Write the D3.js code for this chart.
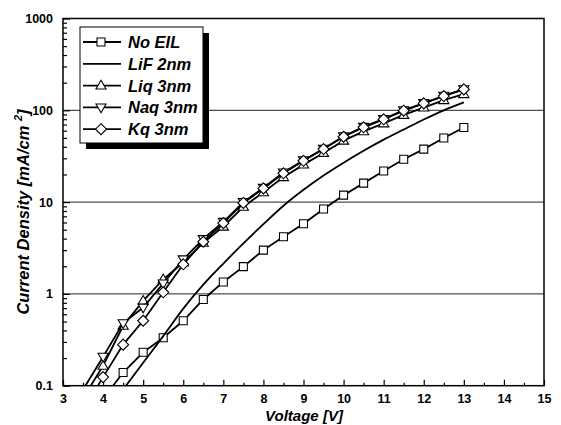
<!DOCTYPE html>
<html><head><meta charset="utf-8">
<script src="https://cdn.jsdelivr.net/npm/d3@7"></script>
<style>
html,body{margin:0;padding:0;background:#fff;}
svg{display:block;}
text{font-family:"Liberation Sans",Arial,Helvetica,sans-serif;}
</style>
</head><body>
<svg id="chart" width="561" height="425"></svg>
<script>
// ---- data ----
const seriesNames = ["No EIL", "LiF 2nm", "Liq 3nm", "Naq 3nm", "Kq 3nm"];
const noEilV = [4,4.5,5,5.5,6,6.5,7,7.5,8,8.5,9,9.5,10,10.5,11,11.5,12,12.5,13];
const noEilJ = [0.072,0.139,0.231,0.333,0.51,0.87,1.35,1.98,3.0,4.2,5.8,8.4,11.9,16.1,21.8,29.3,37.8,50,65];
const lifV = [4.5,5,5.5,6,6.5,7,7.5,8,8.5,9,9.5,10,10.5,11,11.5,12,12.5,13];
const lifJ = [0.091,0.178,0.347,0.692,1.26,2.14,3.55,5.75,9.12,13.6,19.5,26.9,36.3,47.9,61.7,79.4,100,122];
const qV = [3.5,4,4.5,5,5.5,6,6.5,7,7.5,8,8.5,9,9.5,10,10.5,11,11.5,12,12.5,13];
const liqJ = [0.073,0.165,0.45,0.84,1.44,2.2,3.6,5.4,8.9,12.8,18.7,25.6,34.3,46.7,59,72,89,107,129,150];
const naqJ = [0.0906,0.207,0.48,0.71,1.3,2.38,3.96,6.1,10.0,14.3,21,28.5,38.2,52,66,80.5,100,120,144,170];
const kqJ = [0.054,0.124,0.28,0.51,1.04,2.1,3.7,5.9,9.8,14.1,20.6,28.2,37.8,51.5,65.3,79.8,99,119,143,169];
const xTicks = [3,4,5,6,7,8,9,10,11,12,13,14,15];
const yTicks = [0.1,1,10,100,1000];
const yTickLabels = ["0.1","1","10","100","1000"];
const yGrid = [1,10,100];

// ---- layout ----
const L = 63, R = 544, T = 18.5, B = 385.7;
const svg = d3.select("#chart");
const x = d3.scaleLinear().domain([3,15]).range([L,R]);
const y = d3.scaleLog().domain([0.1,1000]).range([B,T]);

// gridlines
svg.append("g").selectAll("line").data(yGrid).join("line")
  .attr("x1", L).attr("x2", R)
  .attr("y1", d=>y(d)).attr("y2", d=>y(d))
  .attr("stroke", "#222").attr("stroke-width", 1);

// axes
const xMinor = d3.range(3.5, 15, 1);
const yMinor = [];
[0.1,1,10,100].forEach(dec => { for (let k=2;k<=9;k++) yMinor.push(dec*k); });

const gx = svg.append("g").attr("transform", `translate(0,${B})`)
  .call(d3.axisBottom(x).tickValues(xTicks).tickSize(-6).tickPadding(8).tickFormat(d3.format("d")));
const gxm = svg.append("g").attr("transform", `translate(0,${B})`)
  .call(d3.axisBottom(x).tickValues(xMinor).tickSize(-3).tickFormat(""));
const gy = svg.append("g").attr("transform", `translate(${L},0)`)
  .call(d3.axisLeft(y).tickValues(yTicks).tickSize(-7).tickPadding(10)
        .tickFormat((d,i)=>yTickLabels[i]));
const gym = svg.append("g").attr("transform", `translate(${L},0)`)
  .call(d3.axisLeft(y).tickValues(yMinor).tickSize(-4).tickFormat(""));
[gx,gxm,gy,gym].forEach(g => {
  g.select(".domain").remove();
  g.selectAll("line").attr("stroke","#000").attr("stroke-width",1.2);
  g.selectAll("text").attr("font-family","'Liberation Sans',Arial,sans-serif")
   .attr("font-weight","bold").attr("font-size",12.5).attr("fill","#000");
});

// frame
svg.append("rect").attr("x",L).attr("y",T).attr("width",R-L).attr("height",B-T)
  .attr("fill","none").attr("stroke","#000").attr("stroke-width",1.5);

// clip
svg.append("clipPath").attr("id","clip").append("rect")
  .attr("x",L).attr("y",T).attr("width",R-L).attr("height",B-T);
const plot = svg.append("g").attr("clip-path","url(#clip)");

const line = d3.line().x(d=>x(d[0])).y(d=>y(d[1]));
const smooth = d3.line().x(d=>x(d[0])).y(d=>y(d[1])).curve(d3.curveMonotoneX);

const symSquare = s => `M${-s},${-s}h${2*s}v${2*s}h${-2*s}Z`;
const symUp = s => `M0,${-s*1.15}L${s*1.1},${s*0.75}L${-s*1.1},${s*0.75}Z`;
const symDown = s => `M0,${s*1.15}L${s*1.1},${-s*0.75}L${-s*1.1},${-s*0.75}Z`;
const symDiamond = s => `M0,${-s}L${s},0L0,${s}L${-s},0Z`;

const series = [
  {name:seriesNames[0], v:noEilV, j:noEilJ, sym:symSquare, size:4, curve:line},
  {name:seriesNames[1], v:lifV, j:lifJ, sym:null, size:0, curve:smooth},
  {name:seriesNames[2], v:qV, j:liqJ, sym:symUp, size:4.6, curve:line},
  {name:seriesNames[3], v:qV, j:naqJ, sym:symDown, size:4.6, curve:line},
  {name:seriesNames[4], v:qV, j:kqJ, sym:symDiamond, size:5.5, curve:line}
];

series.forEach(s => {
  const pts = s.v.map((v,i)=>[v, s.j[i]]);
  plot.append("path").attr("d", s.curve(pts))
    .attr("fill","none").attr("stroke","#000").attr("stroke-width",1.8);
  if (s.sym) {
    plot.append("g").selectAll("path").data(pts).join("path")
      .attr("transform", d=>`translate(${x(d[0])},${y(d[1])})`)
      .attr("d", s.sym(s.size))
      .attr("fill","#fff").attr("stroke","#000").attr("stroke-width",1.1);
  }
});

// legend
const lg = svg.append("g");
const lx = 80, ly = 27, lw = 123, lh = 116;
lg.append("rect").attr("x",lx+6).attr("y",ly+6).attr("width",lw).attr("height",lh).attr("fill","#000");
lg.append("rect").attr("x",lx).attr("y",ly).attr("width",lw).attr("height",lh)
  .attr("fill","#fff").attr("stroke","#000").attr("stroke-width",1);
series.forEach((s,i) => {
  const yy = 42 + i*21.8;
  lg.append("line").attr("x1",83).attr("x2",121).attr("y1",yy).attr("y2",yy)
    .attr("stroke","#000").attr("stroke-width",1.8);
  if (s.sym) {
    lg.append("path").attr("transform",`translate(101,${yy})`).attr("d", s.sym(s.size))
      .attr("fill","#fff").attr("stroke","#000").attr("stroke-width",1.1);
  }
  lg.append("text").attr("x",128).attr("y",yy).attr("dy","0.36em")
    .attr("font-size",16.5).attr("font-weight","bold").attr("font-style","italic")
    .text(s.name);
});

// axis titles
svg.append("text").attr("x",304).attr("y",421).attr("text-anchor","middle")
  .attr("font-size",15).attr("font-weight","bold").attr("font-style","italic")
  .text("Voltage [V]");
const yt = svg.append("text").attr("transform","translate(29,212) rotate(-90)")
  .attr("text-anchor","middle")
  .attr("font-size",16.5).attr("font-weight","bold").attr("font-style","italic");
yt.append("tspan").text("Current Density [mA/cm ");
yt.append("tspan").attr("font-size",11).attr("dy",-7).text("2");
yt.append("tspan").attr("dy",7).text("]");
</script>
</body></html>
